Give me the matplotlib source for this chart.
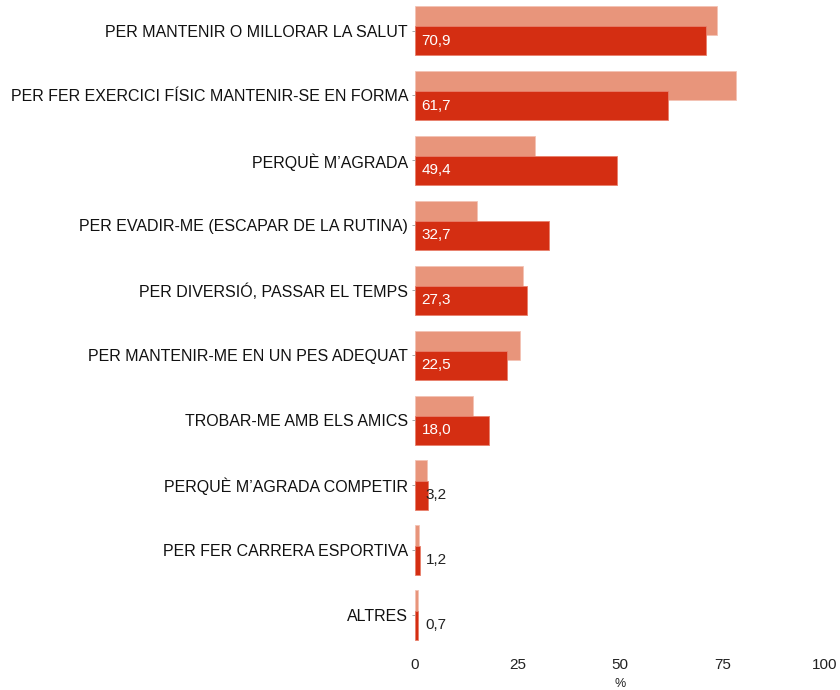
import numpy as np
import matplotlib
matplotlib.use('Agg')
import matplotlib.pyplot as plt

plt.rcParams['font.family'] = ['Liberation Sans', 'DejaVu Sans']

#categories, top to bottom
categories = ['PER MANTENIR O MILLORAR LA SALUT',
              'PER FER EXERCICI FÍSIC MANTENIR-SE EN FORMA',
              'PERQUÈ M\u2019AGRADA',
              'PER EVADIR-ME (ESCAPAR DE LA RUTINA)',
              'PER DIVERSIÓ, PASSAR EL TEMPS',
              'PER MANTENIR-ME EN UN PES ADEQUAT',
              'TROBAR-ME AMB ELS AMICS',
              'PERQUÈ M\u2019AGRADA COMPETIR',
              'PER FER CARRERA ESPORTIVA',
              'ALTRES']
#dark series (labelled values)
values = [70.9, 61.7, 49.4, 32.7, 27.3, 22.5, 18.0, 3.2, 1.2, 0.7]
#light series (unlabelled)
values_prev = [73.7, 78.3, 29.3, 15.1, 26.3, 25.6, 14.1, 2.9, 1.0, 0.7]
xticks = [0, 25, 50, 75, 100]

light = '#E8957B'
dark = '#D42E12'

fig = plt.figure(figsize=(8.4, 6.9), dpi=100)
ax = fig.add_axes([0.494, 0.0625, 0.488, 0.9375])

y = np.arange(len(categories))
h = 0.45
off = 0.155
ax.barh(y - off, values_prev, height=h, color=light, edgecolor='#f3c3b4', linewidth=0.6)
ax.barh(y + off, values, height=h, color=dark, edgecolor='#e8806c', linewidth=0.6)

for yi, v in zip(y, values):
    txt = ('%.1f' % v).replace('.', ',')
    if v > 10:
        ax.text(1.6, yi + off, txt, color='white', fontsize=11, va='center', ha='left')
    else:
        ax.text(2.6, yi + off, txt, color='#222222', fontsize=11, va='center', ha='left')

ax.set_yticks(y)
ax.set_yticklabels(categories, fontsize=11.5, color='#111111')
ax.set_ylim(9.49, -0.47)
ax.set_xlim(0, 100)
ax.set_xticks(xticks)
ax.set_xticklabels([str(t) for t in xticks], fontsize=11, color='#222222')
ax.set_xlabel('%', fontsize=9, color='#222222', labelpad=4)

for s in ax.spines.values():
    s.set_visible(False)
ax.tick_params(axis='y', length=2, width=0.6, color='#999999', pad=3)
ax.tick_params(axis='x', length=0, pad=8)

plt.savefig('out.png', dpi=100)
